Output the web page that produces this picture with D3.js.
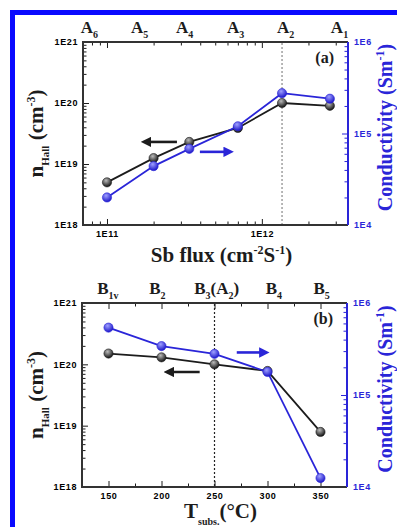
<!DOCTYPE html>
<html>
<head>
<meta charset="utf-8">
<script src="https://cdn.jsdelivr.net/npm/d3@7"></script>
<style>
  body { margin: 0; background: #fff; }
  svg { display: block; font-family: "Liberation Serif", "DejaVu Serif", serif; font-weight: bold; }
  .tick text { font-size: 9px; letter-spacing: 0.6px; }
</style>
</head>
<body>
<svg id="chart" width="397" height="527"></svg>
<script>
// panel (a): Sb flux series
const fluxA = [1e11, 2e11, 3.4e11, 7e11, 1.35e12, 2.75e12];
const nHallA = [5e18, 1.25e19, 2.3e19, 3.9e19, 1e20, 9e19];
const condA = [2.0e4, 4.4e4, 6.8e4, 1.2e5, 2.76e5, 2.4e5];
const sampleA = [['A', '6', 7.4e10], ['A', '5', 1.56e11], ['A', '4', 3.05e11], ['A', '3', 6.5e11], ['A', '2', 1.37e12], ['A', '1', 3.05e12]];

// panel (b): substrate temperature series
const tempB = [150, 200, 250, 300, 350];
const nHallB = [1.5e20, 1.3e20, 1e20, 7.8e19, 7.9e18];
const condB = [5.4e5, 3.4e5, 2.8e5, 1.78e5, 1.25e4];
const sampleB = [['B', '1v', 145], ['B', '2', 194], ['B', '3', 252, '(A', '2', ')'], ['B', '4', 304], ['B', '5', 349]];

const nTicks = [1e18, 1e19, 1e20, 1e21];
const cTicks = [1e4, 1e5, 1e6];

const BLACK = '#1c1c1c', BLUE = '#2a25d8';
const svg = d3.select('#chart');

// blue frame on left and top
svg.append('rect').attr('x', 10).attr('y', 10).attr('width', 5).attr('height', 517).attr('fill', '#0a0aff');
svg.append('rect').attr('x', 10).attr('y', 10).attr('width', 387).attr('height', 5).attr('fill', '#0a0aff');

const defs = svg.append('defs');
const ball = (id, c0, c1) => {
  const g = defs.append('radialGradient').attr('id', id).attr('cx', '40%').attr('cy', '30%').attr('r', '70%');
  g.append('stop').attr('offset', '0%').attr('stop-color', c0);
  g.append('stop').attr('offset', '100%').attr('stop-color', c1);
};
ball('ballK', '#bbbbbb', '#111');
ball('ballB', '#9fa0ff', '#1a14c8');
const marker = (c, id) => {
  defs.append('marker').attr('id', id).attr('viewBox', '0 -5 10 10').attr('refX', 6).attr('refY', 0)
    .attr('markerWidth', 4).attr('markerHeight', 4).attr('orient', 'auto')
    .append('path').attr('d', 'M0,-5L10,0L0,5Z').attr('fill', c);
};
marker(BLACK, 'arrK');
marker(BLUE, 'arrB');

const logMinor = (lo, hi) => {
  const out = [];
  for (let e = Math.floor(Math.log10(lo)); e <= Math.ceil(Math.log10(hi)); e++) {
    for (let m = 1; m < 10; m++) {
      const v = m * Math.pow(10, e);
      if (v >= lo * 1.0001 && v <= hi / 1.0001 && m !== 1) out.push(v);
    }
  }
  return out;
};
const fmtE = d => '1E' + Math.round(Math.log10(d));

function drawPanel(p) {
  const g = svg.append('g');
  const x = p.x, yL = d3.scaleLog().domain([1e18, 1e21]).range([p.bottom, p.top]);
  const yR = d3.scaleLog().domain([1e4, 1e6]).range([p.bottom, p.top]);
  const [x0, x1] = x.range();

  // ticks
  const ax = (gen, tr, cls) => {
    const a = g.append('g').attr('transform', tr).call(gen);
    a.select('.domain').remove();
    if (cls) a.selectAll('line').attr('stroke', cls);
    return a;
  };
  ax(d3.axisLeft(yL).tickValues(nTicks).tickSize(-6).tickSizeOuter(0).tickPadding(5).tickFormat(fmtE), `translate(${x0},0)`, BLACK);
  ax(d3.axisLeft(yL).tickValues(logMinor(1e18, 1e21)).tickSize(-3.5).tickFormat(''), `translate(${x0},0)`, BLACK);
  const r = ax(d3.axisRight(yR).tickValues(cTicks).tickSize(-6).tickPadding(6).tickFormat(fmtE), `translate(${x1},0)`, BLUE);
  r.selectAll('text').attr('fill', BLUE);
  ax(d3.axisRight(yR).tickValues(logMinor(1e4, 1e6)).tickSize(-3.5).tickFormat(''), `translate(${x1},0)`, BLUE);

  ax(d3.axisBottom(x).tickValues(p.major).tickSize(-6).tickPadding(6).tickFormat(p.fmt), `translate(0,${p.bottom})`, BLACK);
  ax(d3.axisBottom(x).tickValues(p.minor).tickSize(-3.5).tickFormat(''), `translate(0,${p.bottom})`, BLACK);
  ax(d3.axisTop(x).tickValues(p.major).tickSize(-6).tickFormat(''), `translate(0,${p.top})`, BLACK);
  ax(d3.axisTop(x).tickValues(p.minor).tickSize(-3.5).tickFormat(''), `translate(0,${p.top})`, BLACK);

  // frame
  g.append('path').attr('d', `M${x1},${p.top}H${x0}V${p.bottom}H${x1}`).attr('fill', 'none').attr('stroke', '#333').attr('stroke-width', 2);
  g.append('line').attr('x1', x1).attr('x2', x1).attr('y1', p.top).attr('y2', p.bottom).attr('stroke', BLUE).attr('stroke-width', 2);

  // dotted reference line
  g.append('line').attr('x1', x(p.ref)).attr('x2', x(p.ref)).attr('y1', p.top + 1).attr('y2', p.bottom - 1)
    .attr('stroke', p.refColor).attr('stroke-width', 1.2).attr('stroke-dasharray', '2,2');

  // series
  const series = (xs, ys, sc, col, fill) => {
    const pts = xs.map((v, i) => [x(v), sc(ys[i])]);
    g.append('path').attr('d', d3.line()(pts)).attr('fill', 'none').attr('stroke', col).attr('stroke-width', 1.8);
    g.selectAll(null).data(pts).enter().append('circle')
      .attr('cx', d => d[0]).attr('cy', d => d[1]).attr('r', 4.6)
      .attr('fill', fill).attr('stroke', col).attr('stroke-width', 0.6);
  };
  series(p.xs, p.nH, yL, BLACK, 'url(#ballK)');
  series(p.xs, p.cd, yR, BLUE, 'url(#ballB)');

  // arrows
  p.arrows.forEach(a => {
    const sc = a.axis === 'L' ? yL : yR;
    g.append('line').attr('x1', x(a.from)).attr('x2', x(a.to)).attr('y1', sc(a.y)).attr('y2', sc(a.y))
      .attr('stroke', a.axis === 'L' ? BLACK : BLUE).attr('stroke-width', 2.6)
      .attr('marker-end', a.axis === 'L' ? 'url(#arrK)' : 'url(#arrB)');
  });

  // panel letter
  g.append('text').attr('x', x1 - 14).attr('y', p.top + 21).attr('text-anchor', 'end')
    .attr('font-size', 16).attr('fill', BLACK).text(p.letter);

  // sample labels on top
  p.samples.forEach(s => {
    const t = g.append('text').attr('x', x(s[2])).attr('y', p.top - 9).attr('font-size', 17).attr('fill', BLACK)
      .attr('text-anchor', s.length > 3 ? 'middle' : 'start').attr('dx', s.length > 3 ? 0 : -6);
    t.append('tspan').text(s[0]);
    t.append('tspan').attr('font-size', 10).attr('dy', 5).text(s[1]);
    if (s.length > 3) {
      t.append('tspan').attr('dy', -5).text(s[3]);
      t.append('tspan').attr('font-size', 10).attr('dy', 5).text(s[4]);
      t.append('tspan').attr('dy', -5).text(s[5]);
    }
  });

  // left title
  const cy = (p.top + p.bottom) / 2;
  const lt = g.append('text').attr('transform', `translate(43,${cy}) rotate(-90)`).attr('text-anchor', 'middle')
    .attr('font-size', 21).attr('fill', BLACK);
  lt.append('tspan').text('n');
  lt.append('tspan').attr('font-size', 11).attr('dy', 6).text('Hall');
  lt.append('tspan').attr('dy', -6).text(' (cm');
  lt.append('tspan').attr('font-size', 12).attr('dy', -8).text('-3');
  lt.append('tspan').attr('dy', 8).text(')');

  // right title
  const rt = g.append('text').attr('transform', `translate(392,${cy - 6}) rotate(-90)`).attr('text-anchor', 'middle')
    .attr('font-size', 20).attr('fill', BLUE);
  rt.append('tspan').text('Conductivity (Sm');
  rt.append('tspan').attr('font-size', 12).attr('dy', -8).text('-1');
  rt.append('tspan').attr('dy', 8).text(')');

  // x title
  const xt = g.append('text').attr('x', (x0 + x1) / 2 + 6).attr('y', p.bottom + p.xtDy).attr('text-anchor', 'middle')
    .attr('font-size', 21).attr('fill', BLACK);
  p.xtitle(xt);
}

drawPanel({
  x: d3.scaleLog().domain([7e10, 3.6e12]).range([83, 348]),
  top: 42, bottom: 225,
  major: [1e11, 1e12], minor: [8e10, 9e10].concat(logMinor(1e11, 1e12), [2e12, 3e12]),
  fmt: fmtE,
  ref: 1.35e12, refColor: '#888',
  xs: fluxA, nH: nHallA, cd: condA,
  arrows: [{ from: 2.83e11, to: 1.76e11, y: 2.3e19, axis: 'L' }, { from: 3.98e11, to: 6.2e11, y: 6.3e4, axis: 'R' }],
  letter: '(a)', samples: sampleA, xtDy: 37,
  xtitle: t => {
    t.append('tspan').text('Sb flux (cm');
    t.append('tspan').attr('font-size', 12).attr('dy', -8).text('-2');
    t.append('tspan').attr('dy', 8).text('S');
    t.append('tspan').attr('font-size', 12).attr('dy', -8).text('-1');
    t.append('tspan').attr('dy', 8).text(')');
  }
});

drawPanel({
  x: d3.scaleLinear().domain([125, 375]).range([82, 347]),
  top: 303, bottom: 487,
  major: [150, 200, 250, 300, 350], minor: [175, 225, 275, 325],
  fmt: d3.format('d'),
  ref: 250, refColor: '#222',
  xs: tempB, nH: nHallB, cd: condB,
  arrows: [{ from: 236, to: 206, y: 7.5e19, axis: 'L' }, { from: 271, to: 298, y: 2.9e5, axis: 'R' }],
  letter: '(b)', samples: sampleB, xtDy: 31,
  xtitle: t => {
    t.append('tspan').text('T');
    t.append('tspan').attr('font-size', 10).attr('dy', 7).text('subs.');
    t.append('tspan').attr('dy', -7).text('(°C)');
  }
});
</script>
</body>
</html>
